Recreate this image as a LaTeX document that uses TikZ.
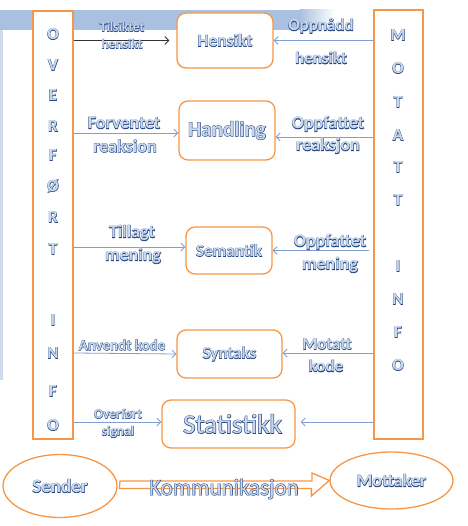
\documentclass[tikz,border=0pt]{standalone}
\usepackage{fontspec}
\setmainfont{Carlito}
\newfontfamily\olfont{Carlito Bold}[FakeBold=4]
\newfontfamily\fillfont{Carlito Bold}
\newfontfamily\olfontR{Carlito}[FakeBold=4]
\newfontfamily\fillfontR{Carlito}
\usetikzlibrary{arrows.meta,shapes.geometric}
\definecolor{dk}{HTML}{24467F}
\definecolor{lt}{HTML}{C9D8EE}
\definecolor{org}{HTML}{F79646}
\definecolor{arr}{HTML}{7F9FCF}
\definecolor{band}{HTML}{A9C0E0}
\newcommand\olt[1]{\leavevmode\rlap{\olfont\color{dk}#1}{\fillfont\color{lt}#1}}
\newcommand\oltR[1]{\leavevmode\rlap{\olfontR\color{dk}#1}{\fillfontR\color{lt}#1}}
\newcommand\fs[1]{\fontsize{#1}{#1}\selectfont}
\tikzset{
  col/.style={draw=org, line width=1.3pt, fill=white, inner sep=0pt},
  box/.style={draw=org, line width=1.3pt, fill=white, rounded corners=9pt, inner sep=0pt},
  ell/.style={ellipse, draw=org, line width=1.3pt, fill=white, inner sep=0pt},
  letter/.style={inner sep=0pt},
  lab/.style={inner sep=0pt},
  conn/.style={draw=arr, line width=0.8pt, -{Straight Barb[length=4pt,width=8pt]}},
  connk/.style={draw=black!80, line width=0.8pt, -{Straight Barb[length=4pt,width=8pt]}},
}
\begin{document}
\begin{tikzpicture}[x=1pt,y=-1pt]
\useasboundingbox (0,0) rectangle (467,526);
% background band
\fill[band] (0,10) rectangle (300,30);
\shade[left color=band, right color=white] (299.5,10) rectangle (335,30);
\fill[band!55] (0,30) rectangle (3,380);
% columns
\node[col, minimum width=40pt, minimum height=428pt] (L) at (53,225) {};
\node[col, minimum width=49pt, minimum height=429pt] (R) at (398.5,224.5) {};
% left letters
\foreach \t/\y [count=\i] in {O/34,V/65,E/95,R/126,F/155,Ø/186,R/217,T/249,I/320,N/353,F/391,O/425}
  \node[letter] (l\i) at (53,\y) {\fs{17}\olt{\t}};
\foreach \t/\y [count=\i] in {M/35,O/68,T/102,A/135,T/167,T/200,I/266,N/299,F/332,O/365}
  \node[letter] (r\i) at (398,\y) {\fs{17}\olt{\t}};
% boxes
\node[box, minimum width=96pt, minimum height=55pt] (hens) at (225,40.5) {\fs{17.5}\olt{Hensikt}};
\node[box, minimum width=96pt, minimum height=59pt] (hand) at (227,130.5) {\fs{21}\olt{Handling}};
\node[box, minimum width=86pt, minimum height=47pt] (sem) at (229,250.5) {\fs{17}\olt{Semantik}};
\node[box, minimum width=105pt, minimum height=48pt] (syn) at (229.5,354) {\fs{17}\olt{Syntaks}};
\node[box, minimum width=133pt, minimum height=48pt] (stat) at (228.5,424) {\hspace*{8pt}\fs{27}\oltR{Statistikk}};
% connectors left
\draw[connk, shorten >=7pt] (L.east |- hens.west) -- (hens.west);
\draw[conn] (L.east |- hand.west) ++(0,2.5) coordinate (a2) (a2) -- (hand.west |- a2);
\draw[conn] (L.east |- sem.west) ++(0,-3.5) coordinate (a3) (a3) -- (sem.west |- a3);
\draw[conn] (L.east |- syn.west) ++(0,-1) coordinate (a4) (a4) -- (syn.west);
\draw[conn] (L.east |- stat.west) ++(0,-2) coordinate (a5) (a5) -- (stat.west |- a5);
% connectors right
\draw[conn] (R.west |- hens.east) -- (hens.east);
\draw[conn] (R.west |- hand.east) ++(0,6.5) coordinate (b2) (b2) -- (hand.east |- b2);
\draw[conn, shorten <=4pt] (R.west |- sem.east) -- (sem.east);
\draw[conn] (R.west |- syn.east) ++(0,-1) coordinate (b4) (b4) -- (syn.east |- b4);
\draw[conn, shorten >=5pt] (R.west |- stat.east) ++(0,-2) coordinate (b5) (b5) -- (stat.east |- b5);
% labels
\node[lab] (t1a) at (122,27) {\fs{13.5}\olt{Tilsiktet}};
\node[lab] (t1b) at (122,44) {\fs{13.5}\olt{hensikt}};
\node[lab] (u1a) at (321,26) {\fs{17}\olt{Oppnådd}};
\node[lab] (u1b) at (321,58) {\fs{17}\olt{hensikt}};
\node[lab] (t2a) at (124,123) {\fs{18}\olt{Forventet}};
\node[lab] (t2b) at (125,146) {\fs{18}\olt{reaksion}};
\node[lab] (u2a) at (328,124) {\fs{18}\olt{Oppfattet}};
\node[lab] (u2b) at (328,146) {\fs{18}\olt{reaksjon}};
\node[lab] (t3a) at (132,233) {\fs{18}\olt{Tillagt}};
\node[lab] (t3b) at (133,256) {\fs{18}\olt{mening}};
\node[lab] (u3a) at (330,242) {\fs{18}\olt{Oppfattet}};
\node[lab] (u3b) at (330,265) {\fs{18}\olt{mening}};
\node[lab] (t4) at (122,345) {\fs{15}\olt{Anvendt kode}};
\node[lab] (u4a) at (327,344) {\fs{17}\olt{Motatt}};
\node[lab] (u4b) at (326,366) {\fs{17}\olt{kode}};
\node[lab] (t5a) at (118,414) {\fs{13.5}\olt{Overført}};
\node[lab] (t5b) at (118,432) {\fs{13.5}\olt{signal}};
% bottom
\node[ell, minimum width=114pt, minimum height=63pt] (send) at (60,486) {\fs{19}\olt{Sender}};
\node[ell, minimum width=123pt, minimum height=57pt] (mott) at (391.5,480.5) {\fs{18}\olt{Mottaker}};
\coordinate (kA) at (120,489);
\draw[draw=org, line width=1.3pt, fill=white] (kA) ++(0,-8) -- ++(192,0) -- ++(0,-8) -- (mott.west) -- ++(-18,15.5) -- ++(0,-7.5) -- ++(-192,0) -- cycle;
\node[lab] (komm) at (224,489) {\fs{23}\oltR{Kommunikasjon}};
\end{tikzpicture}
\end{document}
